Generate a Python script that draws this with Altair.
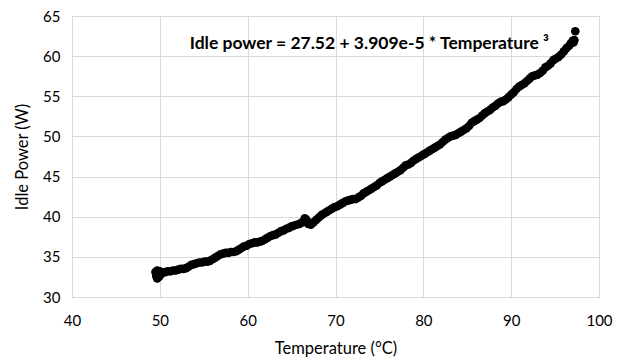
import altair as alt
import pandas as pd

temperature = [49.5, 49.6, 49.7, 49.7, 49.8, 49.9, 50.0, 50.1, 50.3,
    50.6, 50.9, 51.2, 51.5, 51.8, 52.1, 52.4, 52.7, 53.0, 53.3, 53.6, 53.9,
    54.2, 54.5, 54.8, 55.1, 55.4, 55.7, 56.0, 56.3, 56.6, 56.9, 57.2, 57.5,
    57.8, 58.1, 58.4, 58.7, 59.0, 59.3, 59.6, 59.9, 60.2, 60.5, 60.8, 61.1,
    61.4, 61.7, 62.0, 62.3, 62.6, 62.9, 63.2, 63.5, 63.8, 64.1, 64.4, 64.7,
    65.0, 65.3, 65.6, 65.9, 66.2, 66.5, 66.7, 66.9, 67.2, 67.5, 67.8, 68.1,
    68.4, 68.7, 69.0, 69.3, 69.6, 69.9, 70.2, 70.5, 70.8, 71.1, 71.4, 71.7,
    72.0, 72.3, 72.6, 72.9, 73.2, 73.5, 73.8, 74.1, 74.4, 74.7, 75.0, 75.3,
    75.6, 75.9, 76.2, 76.5, 76.8, 77.1, 77.4, 77.7, 78.0, 78.3, 78.6, 78.9,
    79.2, 79.5, 79.8, 80.1, 80.4, 80.7, 81.0, 81.3, 81.6, 81.9, 82.2, 82.5,
    82.8, 83.1, 83.4, 83.7, 84.0, 84.3, 84.6, 84.9, 85.2, 85.5, 85.8, 86.1,
    86.4, 86.7, 87.0, 87.3, 87.6, 87.9, 88.2, 88.5, 88.8, 89.1, 89.4, 89.7,
    90.0, 90.3, 90.6, 90.9, 91.2, 91.5, 91.8, 92.1, 92.4, 92.7, 93.0, 93.3,
    93.6, 93.9, 94.2, 94.5, 94.8, 95.1, 95.4, 95.7, 96.0, 96.3, 96.6, 96.8,
    97.0, 97.2, 97.1, 97.3]

idle_power = [33.1, 32.6, 33.3, 32.3, 32.9, 32.5, 33.2, 32.8, 33.0,
    33.1, 33.2, 33.2, 33.3, 33.3, 33.4, 33.5, 33.5, 33.6, 33.8, 34.0, 34.1,
    34.2, 34.3, 34.3, 34.4, 34.4, 34.5, 34.7, 34.9, 35.1, 35.3, 35.4, 35.5,
    35.5, 35.6, 35.6, 35.7, 35.9, 36.1, 36.3, 36.4, 36.6, 36.7, 36.8, 36.8,
    36.9, 37.0, 37.2, 37.4, 37.6, 37.7, 37.8, 38.0, 38.2, 38.3, 38.5, 38.6,
    38.8, 38.9, 39.0, 39.1, 39.3, 39.8, 39.6, 39.1, 39.0, 39.3, 39.6, 39.9,
    40.2, 40.4, 40.6, 40.8, 41.0, 41.2, 41.3, 41.5, 41.7, 41.9, 42.0, 42.1,
    42.2, 42.2, 42.4, 42.6, 42.9, 43.1, 43.3, 43.5, 43.7, 43.9, 44.2, 44.4,
    44.6, 44.8, 45.0, 45.2, 45.4, 45.6, 45.8, 46.1, 46.4, 46.5, 46.7, 47.0,
    47.2, 47.4, 47.6, 47.8, 48.0, 48.2, 48.4, 48.6, 48.8, 49.0, 49.3, 49.6,
    49.8, 50.0, 50.1, 50.2, 50.4, 50.6, 50.8, 51.0, 51.3, 51.7, 51.9, 52.1,
    52.3, 52.6, 52.9, 53.1, 53.3, 53.6, 53.8, 54.1, 54.3, 54.4, 54.6, 54.9,
    55.2, 55.5, 55.9, 56.2, 56.4, 56.6, 56.9, 57.2, 57.5, 57.6, 57.7, 57.9,
    58.2, 58.6, 58.8, 59.1, 59.5, 59.7, 59.9, 60.2, 60.6, 61.0, 61.3, 61.6,
    61.9, 62.0, 61.7, 63.1]

x_ticks = [40, 50, 60, 70, 80, 90, 100]
y_ticks = [30, 35, 40, 45, 50, 55, 60, 65]

annotation_text = ["Idle power = 27.52 + 3.909e-5 * Temperature \u00b3"]
annotation_x = [53.4]
annotation_y = [61.5]

df = pd.DataFrame({"Temperature": temperature, "Power": idle_power})
ann = pd.DataFrame({"label": annotation_text, "x": annotation_x, "y": annotation_y})

FONT = "Lato"

x_scale = alt.Scale(domain=[40, 100], nice=False, zero=False)
y_scale = alt.Scale(domain=[30, 65], nice=False, zero=False)

points = alt.Chart(df).mark_circle(size=75, color="#000000", opacity=1).encode(
    x=alt.X("Temperature:Q", scale=x_scale,
            axis=alt.Axis(values=x_ticks, title="Temperature (\u00b0C)", grid=True,
                          gridColor="#d9d9d9", domain=True, domainColor="#d9d9d9",
                          ticks=False, labelFlush=False, labelFont=FONT,
                          labelFontSize=15, labelColor="#000000", labelPadding=16,
                          titleFont=FONT, titleFontSize=16.5, titleFontWeight="normal",
                          titleColor="#000000", titlePadding=12)),
    y=alt.Y("Power:Q", scale=y_scale,
            axis=alt.Axis(values=y_ticks, title="Idle Power (W)", grid=True,
                          gridColor="#d9d9d9", domain=False, ticks=False,
                          labelFlush=False, labelFont=FONT, labelFontSize=15,
                          labelColor="#000000", labelPadding=12, titleFont=FONT,
                          titleFontSize=16.5, titleFontWeight="normal",
                          titleColor="#000000", titlePadding=12)),
)

text = alt.Chart(ann).mark_text(
    align="left", baseline="middle", font=FONT, fontSize=17.5, fontWeight="bold",
    color="#000000"
).encode(
    x=alt.X("x:Q", scale=x_scale),
    y=alt.Y("y:Q", scale=y_scale),
    text="label:N",
)

chart = (points + text).properties(
    width=527, height=281,
    autosize=alt.AutoSizeParams(type="none"),
    padding={"left": 72, "top": 16, "right": 21, "bottom": 65},
    background="#ffffff",
).configure_view(stroke="#d9d9d9", strokeWidth=1)

chart.save("out.html", embed_options={"renderer": "svg", "actions": False})
